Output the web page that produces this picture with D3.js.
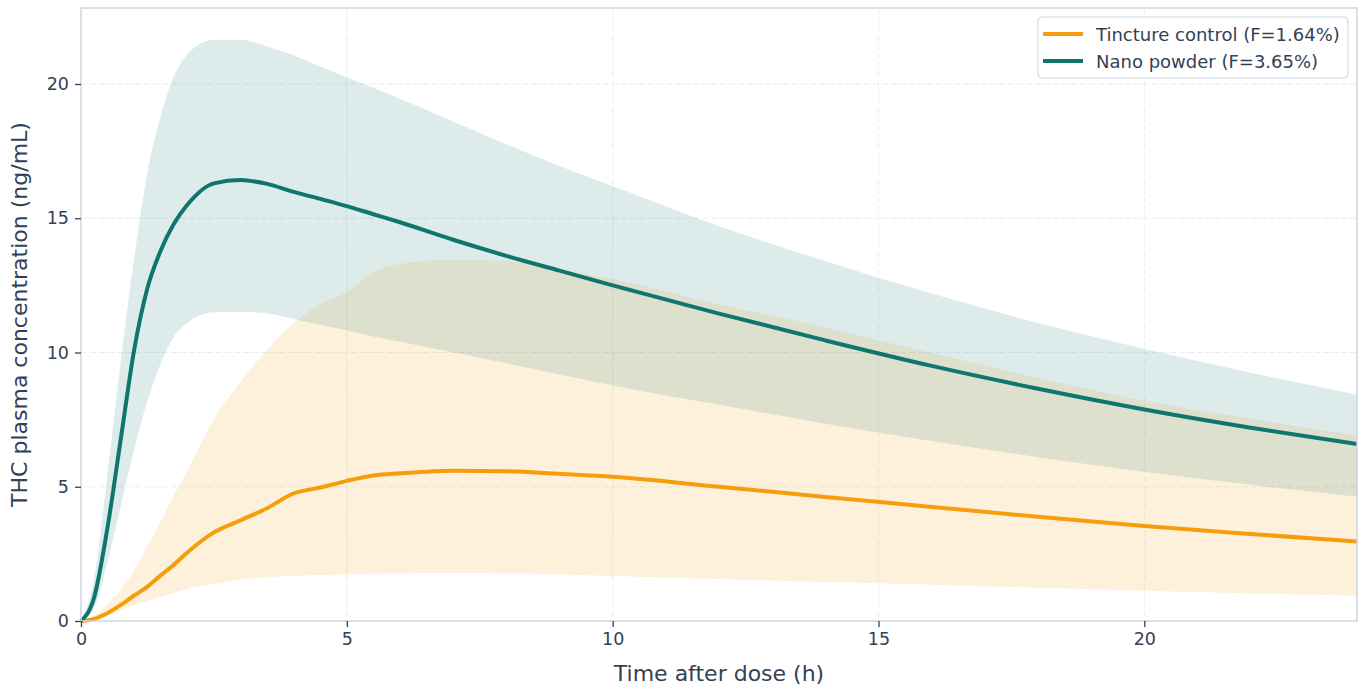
<!DOCTYPE html>
<html>
<head>
<meta charset="utf-8">
<script src="https://cdn.jsdelivr.net/npm/d3@7"></script>
<style>
  body { margin: 0; background: #fff; }
  svg { display: block; font-family: "DejaVu Sans", sans-serif; }
</style>
</head>
<body>
<div id="chart"></div>
<script>
// time grid (h)
const hours = [0, 0.25, 0.5, 0.75, 1, 1.25, 1.5, 1.75, 2, 2.5, 3, 3.5, 4, 4.5, 5, 5.5, 6, 7, 8, 9, 10, 12, 14, 16, 18, 20, 22, 24];

// nano powder: mean and band (ng/mL)
const nanoMean  = [0, 0.9, 3.5, 6.8, 10.1, 12.4, 13.8, 14.8, 15.5, 16.3, 16.42, 16.28, 15.98, 15.72, 15.45, 15.15, 14.85, 14.2, 13.6, 13.05, 12.5, 11.45, 10.45, 9.5, 8.65, 7.88, 7.2, 6.59];
const nanoHigh  = [0, 1.6, 5.5, 9.7, 13.5, 16.7, 18.8, 20.3, 21.1, 21.65, 21.65, 21.4, 21.07, 20.65, 20.25, 19.85, 19.45, 18.6, 17.75, 16.95, 16.2, 14.7, 13.4, 12.2, 11.1, 10.14, 9.25, 8.43];
const nanoLow   = [0, 0.5, 2.2, 4.3, 6.4, 8.2, 9.6, 10.6, 11.1, 11.5, 11.52, 11.45, 11.25, 11.03, 10.82, 10.6, 10.4, 10.0, 9.6, 9.18, 8.77, 8.05, 7.35, 6.7, 6.1, 5.56, 5.07, 4.63];

// tincture control: mean and band (ng/mL)
const tinctMean = [0, 0.08, 0.3, 0.6, 0.95, 1.28, 1.7, 2.1, 2.55, 3.3, 3.75, 4.2, 4.75, 4.97, 5.22, 5.42, 5.5, 5.6, 5.58, 5.48, 5.37, 5.0, 4.62, 4.25, 3.88, 3.54, 3.24, 2.96];
const tinctHigh = [0, 0.2, 0.6, 1.2, 1.9, 2.8, 3.7, 4.7, 5.6, 7.5, 8.9, 10.1, 11.1, 11.8, 12.25, 13.0, 13.3, 13.45, 13.4, 13.1, 12.73, 11.8, 10.93, 9.98, 9.05, 8.2, 7.53, 6.92];
const tinctLow  = [0, 0.05, 0.2, 0.4, 0.6, 0.75, 0.9, 1.05, 1.2, 1.38, 1.55, 1.63, 1.68, 1.71, 1.74, 1.76, 1.78, 1.79, 1.78, 1.73, 1.68, 1.56, 1.45, 1.35, 1.24, 1.13, 1.03, 0.94];

const seriesNames = ["Tincture control (F=1.64%)", "Nano powder (F=3.65%)"];
const xTicks = [0, 5, 10, 15, 20];
const yTicks = [0, 5, 10, 15, 20];

const width = 1365, height = 689;
const margin = { top: 8, right: 8, bottom: 68, left: 81 };
const innerW = width - margin.left - margin.right;
const innerH = height - margin.top - margin.bottom;

const svg = d3.select("#chart").append("svg")
  .attr("width", width)
  .attr("height", height);

const g = svg.append("g")
  .attr("transform", `translate(${margin.left},${margin.top})`);

const x = d3.scaleLinear().domain([0, 24]).range([0, innerW]);
const y = d3.scaleLinear().domain([0, 22.83]).range([innerH, 0]);

// grid
g.append("g").selectAll("line").data(xTicks.filter(d => d > 0)).join("line")
  .attr("x1", d => x(d)).attr("x2", d => x(d))
  .attr("y1", 0).attr("y2", innerH)
  .attr("stroke", "#e8edf3").attr("stroke-width", 1).attr("stroke-dasharray", "6,3");
g.append("g").selectAll("line").data(yTicks.filter(d => d > 0)).join("line")
  .attr("x1", 0).attr("x2", innerW)
  .attr("y1", d => y(d)).attr("y2", d => y(d))
  .attr("stroke", "#e8edf3").attr("stroke-width", 1).attr("stroke-dasharray", "6,3");

const rows = (mean, lo, hi) => hours.map((t, i) => ({ t, m: mean[i], lo: lo[i], hi: hi[i] }));
const tinct = rows(tinctMean, tinctLow, tinctHigh);
const nano = rows(nanoMean, nanoLow, nanoHigh);

const area = d3.area()
  .x(d => x(d.t)).y0(d => y(d.lo)).y1(d => y(d.hi))
  .curve(d3.curveMonotoneX);
const line = d3.line()
  .x(d => x(d.t)).y(d => y(d.m))
  .curve(d3.curveMonotoneX);

const orange = "#f59e0b", teal = "#0f766e";

g.append("path").datum(tinct).attr("d", area).attr("fill", orange).attr("fill-opacity", 0.15);
g.append("path").datum(nano).attr("d", area).attr("fill", teal).attr("fill-opacity", 0.14);

g.append("path").datum(tinct).attr("d", line)
  .attr("fill", "none").attr("stroke", orange).attr("stroke-width", 4).attr("stroke-linejoin", "round");
g.append("path").datum(nano).attr("d", line)
  .attr("fill", "none").attr("stroke", teal).attr("stroke-width", 4).attr("stroke-linejoin", "round");

// spines
g.append("rect")
  .attr("x", 0).attr("y", 0).attr("width", innerW).attr("height", innerH)
  .attr("fill", "none").attr("stroke", "#cbd5e1").attr("stroke-width", 1.5);

// axes
const xAxis = g.append("g").attr("transform", `translate(0,${innerH})`)
  .call(d3.axisBottom(x).tickValues(xTicks).tickSize(6).tickPadding(6));
const yAxis = g.append("g")
  .call(d3.axisLeft(y).tickValues(yTicks).tickSize(6).tickPadding(6));

[xAxis, yAxis].forEach(a => {
  a.select(".domain").remove();
  a.selectAll(".tick line").attr("stroke", "#334155").attr("stroke-width", 1.3);
  a.selectAll(".tick text")
    .attr("fill", "#334155")
    .style("font-size", "17.5px")
    .style("font-family", "DejaVu Sans");
});

// axis labels
svg.append("text")
  .attr("x", margin.left + innerW / 2).attr("y", 681)
  .attr("text-anchor", "middle")
  .attr("fill", "#334155").style("font-size", "22px")
  .text("Time after dose (h)");

svg.append("text")
  .attr("transform", `translate(27,${margin.top + innerH / 2}) rotate(-90)`)
  .attr("text-anchor", "middle")
  .attr("fill", "#334155").style("font-size", "22px")
  .text("THC plasma concentration (ng/mL)");

// legend
const legend = svg.append("g").attr("transform", "translate(1038,17)");
legend.append("rect")
  .attr("width", 310).attr("height", 61).attr("rx", 4)
  .attr("fill", "#fff").attr("fill-opacity", 0.9)
  .attr("stroke", "#cbd5e1").attr("stroke-width", 1);
[orange, teal].forEach((c, i) => {
  const row = legend.append("g").attr("transform", `translate(0,${17 + i * 27})`);
  row.append("line").attr("x1", 5).attr("x2", 45).attr("y1", 0).attr("y2", 0)
    .attr("stroke", c).attr("stroke-width", 4);
  row.append("text").attr("x", 58).attr("y", 6.5)
    .attr("fill", "#334155").style("font-size", "18px")
    .text(seriesNames[i]);
});
</script>
</body>
</html>
